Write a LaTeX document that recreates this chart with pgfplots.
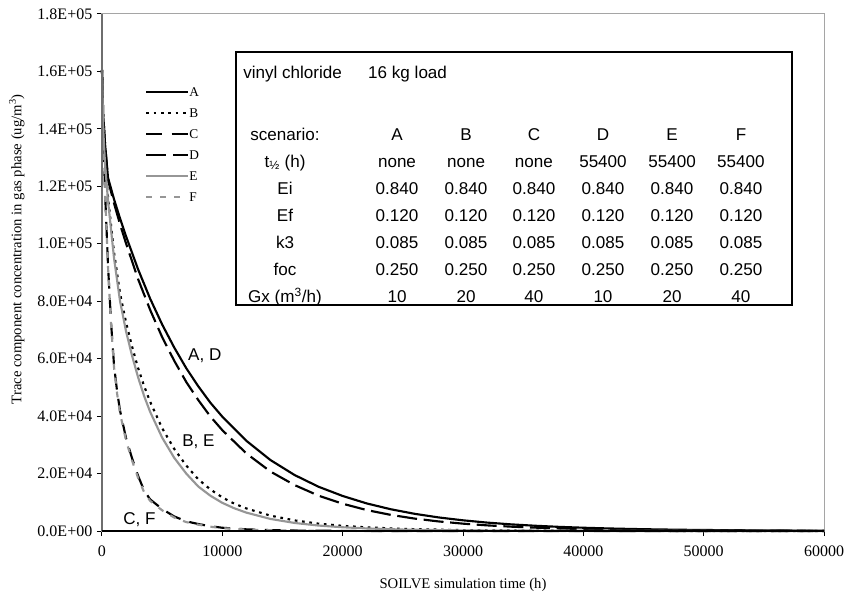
\documentclass[border=0pt]{standalone}
\usepackage{pgfplots}
\pgfplotsset{compat=1.18}
\usepackage{fontspec}
\setmainfont{Liberation Serif}
\newfontfamily\arialfont{Liberation Sans}
\definecolor{lgray}{RGB}{150,150,150}
\definecolor{framegray}{RGB}{165,165,165}
\definecolor{axgray}{RGB}{110,110,110}

\newcommand{\trow}[8]{%
  \node[tcell] at (rel axis cs:0.2535,#1) {#2};
  \node[tcell] at (rel axis cs:0.4086,#1) {#3};
  \node[tcell] at (rel axis cs:0.5042,#1) {#4};
  \node[tcell] at (rel axis cs:0.5983,#1) {#5};
  \node[tcell] at (rel axis cs:0.6939,#1) {#6};
  \node[tcell] at (rel axis cs:0.7895,#1) {#7};
  \node[tcell] at (rel axis cs:0.8850,#1) {#8};
}

\begin{document}
\begin{tikzpicture}[
  tcell/.style={anchor=base, inner sep=0pt, font=\arialfont\fontsize{12.8}{15}\selectfont},
  clab/.style={anchor=west, inner sep=0pt, font=\arialfont\fontsize{12.8}{15}\selectfont}]
\begin{axis}[
  scale only axis, width=541.5pt, height=387.75pt,
  xmin=0, xmax=60000, ymin=0, ymax=180000,
  clip=false,
  axis line style={draw=framegray, line width=0.75pt},
  xtick={0,10000,20000,30000,40000,50000,60000},
  xticklabels={0,10000,20000,30000,40000,50000,60000},
  ytick={0,20000,40000,60000,80000,100000,120000,140000,160000,180000},
  yticklabels={0.0E+00,2.0E+04,4.0E+04,6.0E+04,8.0E+04,1.0E+05,1.2E+05,1.4E+05,1.6E+05,1.8E+05},
  scaled ticks=false,
  tick align=outside, xtick pos=bottom, ytick pos=left,
  major tick length=3.75pt,
  tick style={black, line width=0.75pt},
  ticklabel style={font=\fontsize{12}{12}\selectfont},
  xticklabel style={yshift=-4pt},
  xlabel={SOILVE simulation time (h)},
  ylabel={Trace component concentration in gas phase (ug/m\textsuperscript{3})},
  label style={font=\fontsize{11}{11}\selectfont},
  xlabel style={at={(rel axis cs:0.5,-0.104)}, anchor=center},
  ylabel style={at={(rel axis cs:-0.118,0.545)}, anchor=center},
  every axis plot/.append style={line width=1.6pt, mark=none},
  legend image code/.code={\draw[#1] (0pt,0pt) -- (31.5pt,0pt);},
  legend cell align=left,
  legend style={at={(rel axis cs:0.0596,0.8694)}, anchor=north west, draw=none, fill=none,
    inner sep=0pt, row sep=0pt,
    font=\fontsize{10}{10}\selectfont,
    nodes={inner sep=0pt, text height=11pt, text depth=4.75pt},
    /tikz/every even column/.style={column sep=2pt}},
]
% A
\addplot[black] coordinates {(0,160500) (100,145000) (250,135000) (500,123000) (1000,115500) (1500,108800) (2000,102600) (3000,91100) (4000,80900) (5000,71900) (6000,63900) (7000,56700) (8000,50400) (9000,44700) (10000,39800) (12000,31400) (14000,24700) (16000,19500) (18000,15400) (20000,12200) (22000,9600) (24000,7570) (26000,5970) (28000,4710) (30000,3720) (32000,2930) (34000,2310) (36000,1830) (38000,1440) (40000,1140) (42000,900) (44000,710) (46000,560) (48000,440) (50000,350) (55000,190) (60000,110)};
% B
\addplot[black, dash pattern=on 2pt off 3.5pt] coordinates {(0,160500) (100,140300) (250,128700) (500,116300) (1000,97000) (1500,82700) (2000,72600) (2500,64200) (3000,56700) (3500,50500) (4000,45000) (5000,35800) (6000,28600) (7000,22800) (8000,18000) (9000,14500) (10000,11700) (11000,9500) (12000,7850) (14000,5350) (16000,3700) (18000,2550) (20000,1800) (22000,1270) (25000,740) (30000,310) (35000,130) (40000,55) (50000,11) (60000,2)};
% C
\addplot[black, dash pattern=on 12pt off 7pt] coordinates {(0,160500) (100,140200) (250,118400) (500,92500) (750,72700) (1000,57700) (1250,48800) (1500,41900) (2000,32300) (2500,25300) (3000,19200) (3500,14100) (4000,11000) (5000,7660) (6000,5070) (7000,3380) (8000,2430) (9000,1680) (10000,1130) (12000,580) (14000,300) (16000,160) (20000,40) (25000,7) (30000,0) (60000,0)};
% D
\addplot[black, dash pattern=on 15pt off 5pt] coordinates {(0,160500) (100,145000) (250,135000) (500,122200) (1000,114100) (1500,106800) (2000,100100) (3000,87700) (4000,77000) (5000,67500) (6000,59300) (7000,51900) (8000,45600) (9000,39900) (10000,35100) (12000,27000) (14000,20700) (16000,16000) (18000,12300) (20000,9500) (22000,7290) (24000,5610) (26000,4310) (28000,3320) (30000,2560) (32000,1960) (34000,1510) (36000,1170) (38000,900) (40000,690) (42000,530) (44000,410) (46000,315) (48000,240) (50000,190) (55000,95) (60000,52)};
% E
\addplot[lgray] coordinates {(0,160500) (100,140000) (250,128000) (500,115000) (1000,95000) (1500,80000) (2000,69500) (2500,61000) (3000,53500) (3500,47000) (4000,41500) (5000,32500) (6000,25500) (7000,20000) (8000,15500) (9000,12300) (10000,9800) (11000,7900) (12000,6400) (14000,4200) (16000,2800) (18000,1900) (20000,1300) (22000,900) (25000,500) (30000,200) (35000,80) (40000,30) (50000,5) (60000,1)};
% F
\addplot[lgray, dash pattern=on 4.5pt off 6pt] coordinates {(0,160500) (100,140000) (250,118000) (500,92000) (750,72000) (1000,57000) (1250,48000) (1500,41000) (2000,31500) (2500,24500) (3000,18500) (3500,13500) (4000,10500) (5000,7200) (6000,4700) (7000,3100) (8000,2200) (9000,1500) (10000,1000) (12000,500) (14000,250) (16000,130) (20000,30) (25000,5) (30000,0) (60000,0)};
\legend{A,B,C,D,E,F}

% axis lines (left dark gray, bottom black)
\draw[axgray, line width=1.1pt] (rel axis cs:0,0) -- (rel axis cs:0,1);
\draw[black, line width=1pt] (rel axis cs:0,0) -- (rel axis cs:1,0);

% curve labels
\node[clab] at (rel axis cs:0.1190,0.3390) {A, D};
\node[clab] at (rel axis cs:0.1108,0.1721) {B, E};
\node[clab] at (rel axis cs:0.0291,0.0213) {C, F};

% parameter box
\draw[black, line width=1.1pt, fill=white] (rel axis cs:0.1856,0.4371) rectangle (rel axis cs:0.9557,0.9265);
\node[tcell, anchor=base west] at (rel axis cs:0.1953,0.8760) {vinyl chloride};
\node[tcell, anchor=base west] at (rel axis cs:0.3684,0.8760) {16 kg load};
\trow{0.7561}{scenario:}{A}{B}{C}{D}{E}{F}
\trow{0.7039}{t\textsubscript{½} (h)}{none}{none}{none}{55400}{55400}{55400}
\trow{0.6516}{Ei}{0.840}{0.840}{0.840}{0.840}{0.840}{0.840}
\trow{0.5994}{Ef}{0.120}{0.120}{0.120}{0.120}{0.120}{0.120}
\trow{0.5472}{k3}{0.085}{0.085}{0.085}{0.085}{0.085}{0.085}
\trow{0.4950}{foc}{0.250}{0.250}{0.250}{0.250}{0.250}{0.250}
\trow{0.4427}{Gx (m\textsuperscript{3}/h)}{10}{20}{40}{10}{20}{40}

\coordinate (bbsw) at (rel axis cs:-0.14127,-0.12959);
\coordinate (bbne) at (rel axis cs:1.03047,1.02708);
\end{axis}
\pgfresetboundingbox
\path[use as bounding box] (bbsw) rectangle (bbne);
\end{tikzpicture}
\end{document}
